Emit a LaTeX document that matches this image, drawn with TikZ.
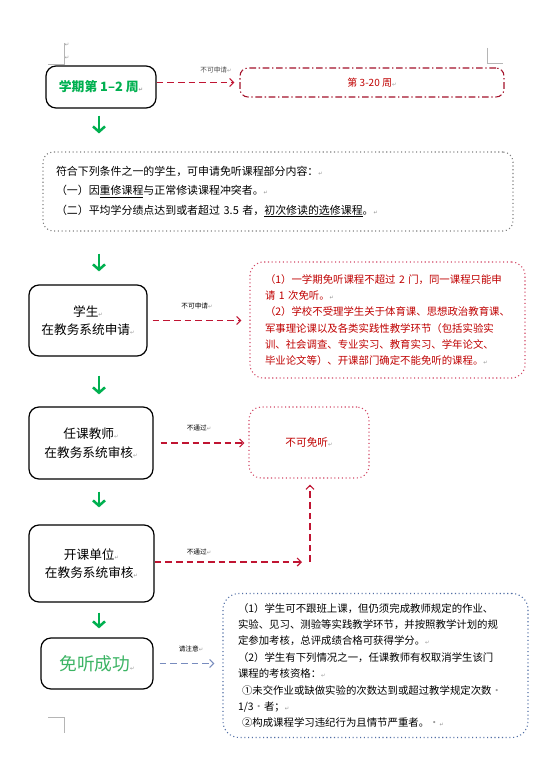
\documentclass[tikz,border=0pt]{standalone}
\usepackage{fontspec}
\setmainfont{Noto Sans CJK SC}
\newfontfamily\symfont{DejaVu Sans}
\usetikzlibrary{arrows.meta}

\definecolor{flowgreen}{RGB}{0,176,80}
\definecolor{passgreen}{RGB}{60,180,100}
\definecolor{denyred}{RGB}{192,20,50}
\definecolor{textred}{RGB}{192,0,0}
\definecolor{dotred}{RGB}{210,70,100}
\definecolor{noteblue}{RGB}{80,110,165}
\definecolor{notearrow}{RGB}{120,140,190}
\definecolor{markgray}{RGB}{150,150,150}

\newcommand{\pmark}{{\symfont\fontsize{4pt}{4pt}\selectfont\textcolor{markgray}{↵}}}
\newcommand{\smark}{{\textcolor{markgray}{·}}}
\newcommand{\uln}[1]{\setbox0\hbox{#1}\rlap{\rule[-2pt]{\wd0}{0.7pt}}\box0}

\tikzset{
	mainbox/.style={draw, rounded corners=7.5pt, line width=0.9pt, align=center},
	flow/.style={draw=flowgreen, line width=1.9pt, -{Straight Barb[length=4pt, width=9pt]}},
	denyline/.style={draw=denyred, line width=0.9pt, dash pattern=on 5pt off 3pt,
		-{Straight Barb[length=3pt, width=6pt]}},
	noteline/.style={draw=notearrow, line width=0.9pt, dash pattern=on 5pt off 3pt,
		-{Straight Barb[length=3pt, width=6pt]}},
	tag/.style={inner sep=0pt, font=\fontsize{5pt}{6pt}\selectfont},
	cropmark/.style={draw=markgray!70, line width=0.4pt}
}

\begin{document}
\begin{tikzpicture}[x=0.75pt, y=-0.75pt]

	\useasboundingbox (0,0) rectangle (552,781);
	\fill[white] (0,0) rectangle (552,781);

	% page marks
	\draw[cropmark] (64,43) -- (64,64) -- (48,64);
	\draw[cropmark] (487,48) -- (487,63) -- (503,63);
	\draw[cropmark] (48,717) -- (64,717) -- (64,733);
	\node[inner sep=0pt] (pa) at (67,45) {\pmark};
	\node[inner sep=0pt] (pb) at (67,58) {\pmark};

	% boxes on the left
	\node[mainbox, minimum width=82.5pt, minimum height=31.5pt,
		font=\bfseries\fontsize{9.6pt}{12pt}\selectfont, text=flowgreen]
		(term) at (101,87) {学期第 1–2 周\pmark};
	\node[draw=gray, dotted, rounded corners=7.5pt, line width=0.8pt, align=left,
		text width=333pt, inner xsep=9.75pt, minimum height=59.25pt,
		font=\fontsize{8.2pt}{14.6pt}\selectfont]
		(cond) at (278,191.5) {符合下列条件之一的学生，可申请免听课程部分内容：\pmark\\
		（一）因\uln{重修课程}与正常修读课程冲突者。\pmark\\
		（二）平均学分绩点达到或者超过 3.5 者，\uln{初次修读的选修课程}。\pmark};
	\node[mainbox, minimum width=88.5pt, minimum height=53.25pt,
		font=\fontsize{9.5pt}{13pt}\selectfont]
		(apply) at (88,320.5) {学生\pmark\\在教务系统申请\pmark};
	\node[mainbox, minimum width=93pt, minimum height=54pt,
		font=\fontsize{9.5pt}{14pt}\selectfont]
		(teacher) at (91,443) {任课教师\pmark\\在教务系统审核\pmark};
	\node[mainbox, minimum width=93.75pt, minimum height=57.75pt,
		font=\fontsize{9.5pt}{13.5pt}\selectfont]
		(dept) at (91.5,563.5) {开课单位\pmark\\在教务系统审核\pmark};
	\node[mainbox, minimum width=84pt, minimum height=38.25pt,
		font=\fontsize{13.3pt}{16pt}\selectfont, text=passgreen]
		(pass) at (97,663.5) {免听成功\pmark};

	% boxes on the right
	\node[draw=denyred!85!black, dash pattern=on 5pt off 2pt on 1pt off 2pt,
		rounded corners=6pt, line width=0.8pt, minimum width=198pt, minimum height=21.75pt,
		font=\fontsize{7.5pt}{9pt}\selectfont, text=textred]
		(deny) at (372,82.5) {第 3-20 周\pmark};
	\node[draw=dotred, dotted, rounded corners=10pt, line width=0.8pt, align=left,
		text width=183.75pt, inner xsep=11.25pt, minimum height=87pt,
		font=\fontsize{7.8pt}{12.2pt}\selectfont, text=textred]
		(rules) at (387.5,320) {（1）一学期免听课程不超过 2 门，同一课程只能申\\
		请 1 次免听。\pmark\\
		（2）学校不受理学生关于体育课、思想政治教育课、\\
		军事理论课以及各类实践性教学环节（包括实验实\\
		训、社会调查、专业实习、教育实习、学年论文、\\
		毕业论文等）、开课部门确定不能免听的课程。\pmark};
	\node[draw=dotred, dotted, rounded corners=9pt, line width=0.8pt,
		minimum width=90pt, minimum height=53.25pt,
		font=\fontsize{8pt}{10pt}\selectfont, text=textred]
		(refuse) at (309,442.5) {不可免听\pmark};
	\node[draw=noteblue, dotted, rounded corners=12pt, line width=0.8pt, align=left,
		text width=206.25pt, inner xsep=11.25pt, minimum height=108pt,
		font=\fontsize{7.8pt}{12.3pt}\selectfont]
		(note) at (375.5,665.5) {（1）学生可不跟班上课，但仍须完成教师规定的作业、\\
		实验、见习、测验等实践教学环节，并按照教学计划的规\\
		定参加考核，总评成绩合格可获得学分。\pmark\\
		（2）学生有下列情况之一，任课教师有权取消学生该门\\
		课程的考核资格：\pmark\\
		\hspace*{3pt}①未交作业或缺做实验的次数达到或超过教学规定次数\smark\\
		1/3\smark 者；\pmark\\
		\hspace*{3pt}②构成课程学习违纪行为且情节严重者。\smark\pmark};

	% green arrows
	\coordinate (col) at (99,0);
	\draw[flow, shorten <=5.25pt, shorten >=13.5pt] (term.south -| col) -- (cond.north -| col);
	\draw[flow, shorten <=16.5pt, shorten >=9.75pt] (cond.south -| col) -- (apply.north -| col);
	\draw[flow, shorten <=14.25pt, shorten >=9pt] (apply.south -| col) -- (teacher.north -| col);
	\draw[flow, shorten <=9pt, shorten >=12.75pt] (teacher.south -| col) -- (dept.north -| col);
	\draw[flow, shorten <=7.5pt, shorten >=6.75pt] (dept.south -| col) -- (pass.north -| col);

	% side arrows
	\draw[denyline, shorten >=3.75pt] (term.east |- deny.west) -- (deny.west);
	\node[tag, text=black!70] (tagterm) at (216,70) {不可申请\pmark};
	\draw[denyline, shorten <=3.75pt, shorten >=6pt] (apply.east) -- (apply.east -| rules.west);
	\node[tag] (tagapply) at (197,306) {不可申请\pmark};
	\draw[denyline, shorten <=5.25pt, shorten >=3pt] (teacher.east) -- (teacher.east -| refuse.west);
	\node[tag] (tagteacher) at (199,428) {不通过\pmark};
	\coordinate (turn) at (310,562);
	\draw[denyline, shorten >=6pt] (dept.east |- turn) -- (turn);
	\draw[denyline, shorten >=4.5pt] (turn) -- (turn |- refuse.south);
	\node[tag] (tagdept) at (199,552) {不通过\pmark};
	\draw[noteline, shorten <=4.5pt, shorten >=6pt] (pass.east) -- (pass.east -| note.west);
	\node[tag] (tagpass) at (191,649) {请注意\pmark};

\end{tikzpicture}
\end{document}
